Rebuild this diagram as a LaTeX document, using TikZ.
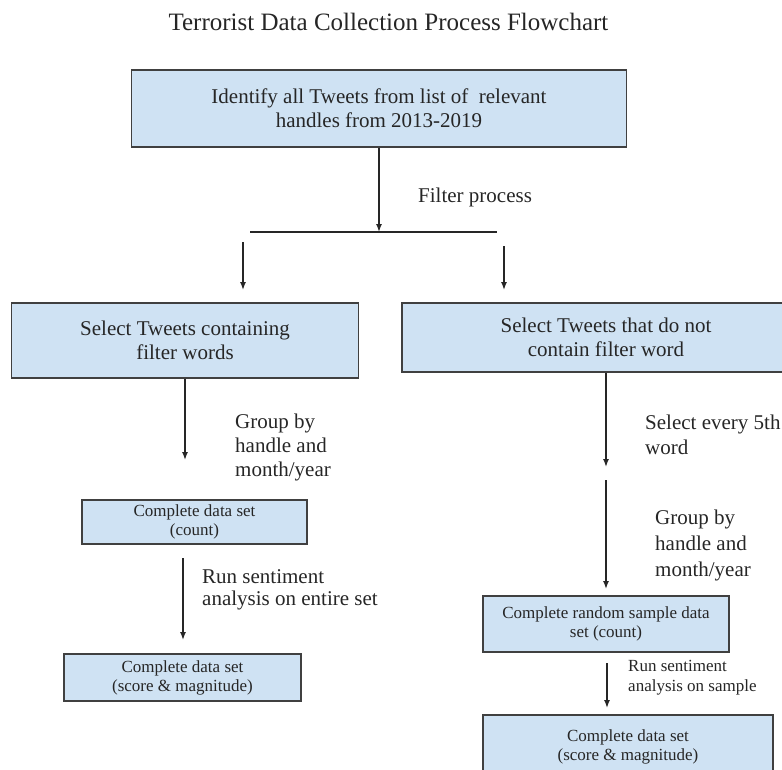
\documentclass[tikz,border=0pt]{standalone}
\usepackage{fontspec}
\setmainfont{Liberation Serif}
\usetikzlibrary{arrows.meta}
\definecolor{boxblue}{HTML}{CFE2F3}
\definecolor{edge}{HTML}{404040}
\definecolor{ink}{HTML}{262626}

\begin{document}
\begin{tikzpicture}[x=1pt,y=-1pt,
                bigbox/.style={draw=edge, line width=1.8pt, fill=boxblue, align=center,
                               inner sep=0pt, text=ink, font=\fontsize{21}{24}\selectfont},
                smallbox/.style={bigbox, font=\fontsize{17}{19}\selectfont},
                note/.style={align=left, anchor=west, inner sep=0pt, text=ink,
                             font=\fontsize{21}{24}\selectfont},
                flow/.style={draw=ink, line width=1.4pt, -{Latex[length=8pt,width=6pt]}}]
                \clip (0,0) rectangle (782,769);
                \node[text=ink, font=\fontsize{25}{30}\selectfont] (T) at (388.5,22)
                    {Terrorist Data Collection Process Flowchart};
                % top of the chart
                \node[bigbox, minimum width=495pt, minimum height=77pt] (I) at (379,108.5)
                    {Identify all Tweets from list of \ relevant\\handles from 2013-2019};
                \coordinate (split) at (379,232);
                \coordinate (sL) at (250,232);
                \coordinate (sR) at (497,232);
                \draw[flow] (I.south) -- (split);
                \draw[draw=ink, line width=1.4pt] (sL) -- (sR);
                \node[note] (fp) at (418,197) {Filter process};
                \coordinate (lt) at (243,242);
                \coordinate (lb) at (243,290);
                \coordinate (rt) at (504,246);
                \coordinate (rb) at (504,290);
                \draw[flow] (lt) -- (lb);
                \draw[flow] (rt) -- (rb);
                % left branch
                \node[bigbox, minimum width=347pt, minimum height=75pt] (A) at (185,340.5)
                    {Select Tweets containing\\filter words};
                \coordinate (gA) at (185,460);
                \draw[flow] (A.south) -- (gA);
                \node[note] (gl) at (235,447) {Group by\\handle and\\month/year};
                \node[smallbox, minimum width=225pt, minimum height=44pt] (C) at (194.5,522)
                    {Complete data set\\(count)};
                \coordinate (c1) at (183,558);
                \coordinate (c2) at (183,640);
                \draw[flow] (c1) -- (c2);
                \node[note, font=\fontsize{21}{22}\selectfont] (rl) at (202,590)
                    {Run sentiment\\analysis on entire set};
                \node[smallbox, minimum width=237pt, minimum height=47pt] (D) at (182.5,677.5)
                    {Complete data set\\(score \& magnitude)};
                % right branch
                \node[bigbox, minimum width=408pt, minimum height=69pt] (B) at (606,337.5)
                    {Select Tweets that do not\\contain filter word};
                \coordinate (gB) at (606,467);
                \draw[flow] (B.south) -- (gB);
                \node[note, font=\fontsize{21}{25}\selectfont] (sl) at (645,435)
                    {Select every 5th\\word};
                \coordinate (s5) at (606,480);
                \coordinate (e0) at (606,589);
                \draw[flow] (s5) -- (e0);
                \node[note, font=\fontsize{21}{26}\selectfont] (gr) at (655,545)
                    {Group by\\handle and\\month/year};
                \node[smallbox, minimum width=246pt, minimum height=56pt] (E) at (606,624)
                    {Complete random sample data\\set (count)};
                \coordinate (f1) at (607,663);
                \coordinate (f2) at (607,708);
                \draw[flow] (f1) -- (f2);
                \node[note, font=\fontsize{17}{20}\selectfont] (rs) at (628,678)
                    {Run sentiment\\analysis on sample};
                \node[smallbox, minimum width=290pt, minimum height=64pt] (F) at (628,747)
                    {Complete data set\\(score \& magnitude)};
            \end{tikzpicture}
\end{document}
